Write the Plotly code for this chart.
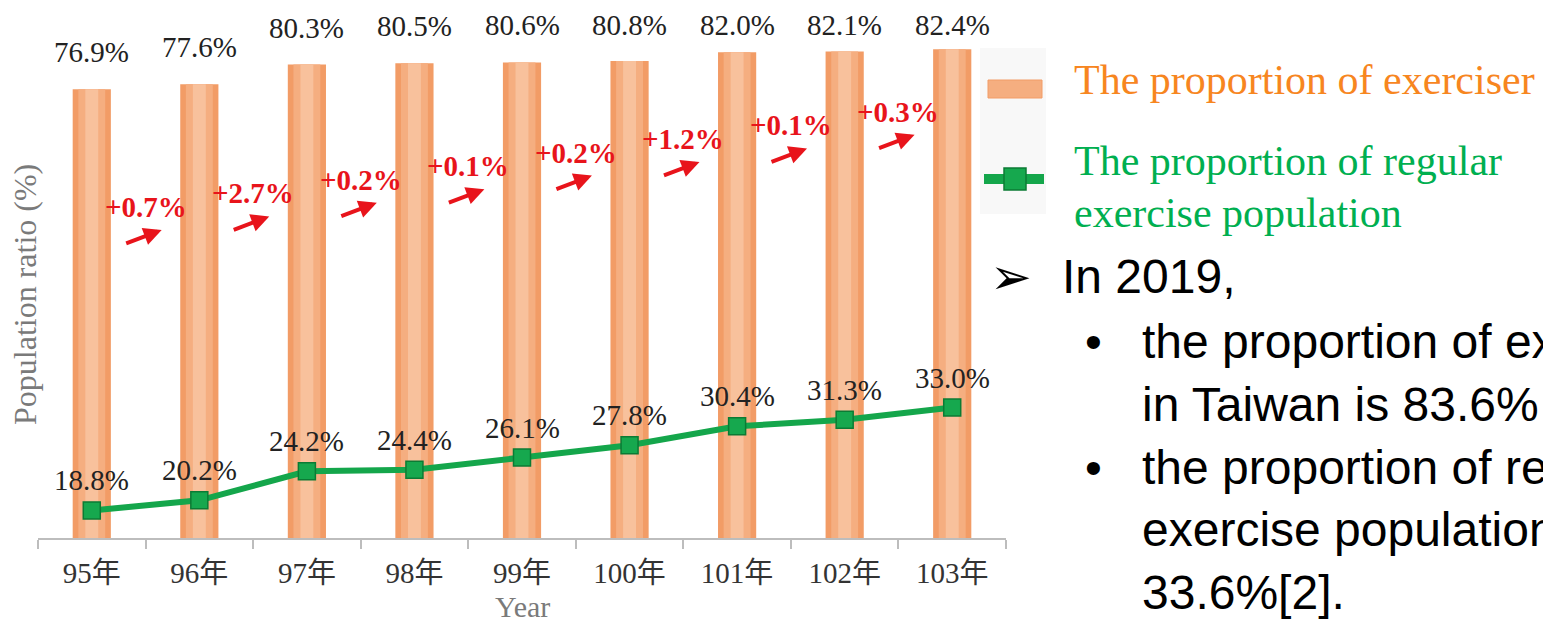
import plotly.graph_objects as go

# ---------------- data ----------------
years = ["95年", "96年", "97年", "98年", "99年", "100年", "101年", "102年", "103年"]
exercisers = [76.9, 77.6, 80.3, 80.5, 80.6, 80.8, 82.0, 82.1, 82.4]
regular = [18.8, 20.2, 24.2, 24.4, 26.1, 27.8, 30.4, 31.3, 33.0]
increments = ["+0.7%", "+2.7%", "+0.2%", "+0.1%", "+0.2%", "+1.2%", "+0.1%", "+0.3%"]

legend_bar = "The proportion of exerciser"
legend_line = ["The proportion of regular", "exercise population"]
bullet_head = "In 2019,"
bullet_lines = [
    "the proportion of exercisers",
    "in Taiwan is 83.6%",
    "the proportion of regular",
    "exercise population is",
    "33.6%[2].",
]

# ---------------- layout geometry ----------------
W, H = 1543, 620
L, R = 38, 1006          # plot area in px
T, B = 0, 538
Y0, PXPER = 15, 7.25     # axis floor and px per percent
SERIF = "Liberation Serif, Times New Roman, Noto Sans CJK TC, serif"
SANS = "Liberation Sans, Arial, sans-serif"


def px(x):
    return (x - L) / (R - L)


def py(y):
    return (B - y) / (B - T)


ORANGE_DARK = "#F29C66"
ORANGE_MID = "#F5AE80"
ORANGE_LIGHT = "#F8C19C"
GREEN = "#14A64B"
GREEN_DARK = "#0B7B34"
RED = "#E8141B"

fig = go.Figure()

# bars with a soft "cylinder" look: three overlaid widths
for w, c in [(0.355, ORANGE_DARK), (0.25, ORANGE_MID), (0.12, ORANGE_LIGHT)]:
    fig.add_trace(go.Bar(x=years, y=exercisers, width=w, marker=dict(color=c, line=dict(width=0)),
                         showlegend=False))

fig.add_trace(go.Scatter(
    x=years, y=regular, mode="lines+markers",
    line=dict(color=GREEN, width=6),
    marker=dict(symbol="square", size=17, color="#16A84E", line=dict(color=GREEN_DARK, width=1.5)),
    showlegend=False,
))

ann = []
# bar value labels (kept inside the top edge of the picture)
for c, v in zip(years, exercisers):
    top_px = B - (v - Y0) * PXPER
    shift = min(37, top_px - 25)
    ann.append(dict(x=c, y=v, xref="x", yref="y", text=f"{v:.1f}%", showarrow=False,
                    yanchor="middle", yshift=shift,
                    font=dict(family=SERIF, size=29, color="#222222")))
# line value labels
for c, v in zip(years, regular):
    ann.append(dict(x=c, y=v, xref="x", yref="y", text=f"{v:.1f}%", showarrow=False,
                    yanchor="middle", yshift=30,
                    font=dict(family=SERIF, size=29, color="#222222")))

# increment labels and red arrows
for i, t in enumerate(increments):
    ly = 207 - 13.6 * i
    ann.append(dict(x=i + 0.5, y=py(ly), xref="x", yref="paper", text=f"<b>{t}</b>",
                    xanchor="center", yanchor="middle",
                    showarrow=False, font=dict(family=SERIF, size=29, color=RED)))
    ay_tip = ly + 23
    ann.append(dict(x=i + 0.5 + 0.15, y=py(ay_tip), xref="x", yref="paper", text="",
                    showarrow=True, arrowhead=2, arrowsize=0.9, arrowwidth=4, arrowcolor=RED,
                    ax=-37, ay=14))

# axis titles
ann.append(dict(x=px(25), y=py(295), xref="paper", yref="paper", text="Population ratio (%)",
                xanchor="center", yanchor="middle",
                textangle=-90, showarrow=False, font=dict(family=SERIF, size=32, color="#7A7A7A")))
ann.append(dict(x=0.5, y=py(606), xref="paper", yref="paper", text="Year", showarrow=False,
                xanchor="center", yanchor="middle",
                font=dict(family=SERIF, size=30, color="#7A7A7A")))

# legend text
ann.append(dict(x=px(1072), y=py(80), xref="paper", yref="paper", xanchor="left", yanchor="middle",
                text=legend_bar, showarrow=False, font=dict(family=SERIF, size=42, color="#F7861F")))
for k, t in enumerate(legend_line):
    ann.append(dict(x=px(1072), y=py(161 + 52 * k), xref="paper", yref="paper", xanchor="left",
                    yanchor="middle", text=t, showarrow=False,
                    font=dict(family=SERIF, size=42, color="#00AF50")))

# right hand bullet text
ann.append(dict(x=px(1011), y=py(277), xref="paper", yref="paper", text="➢", showarrow=False,
                xanchor="center", yanchor="middle",
                font=dict(family="DejaVu Sans", size=50, color="black")))
ann.append(dict(x=px(1060), y=py(276), xref="paper", yref="paper", xanchor="left", yanchor="middle",
                text=bullet_head, showarrow=False, font=dict(family=SANS, size=48, color="black")))
for k, t in enumerate(bullet_lines):
    yy = 342 + 62.5 * k
    ann.append(dict(x=px(1140), y=py(yy), xref="paper", yref="paper", xanchor="left",
                    yanchor="middle", text=t,
                    showarrow=False, font=dict(family=SANS, size=48, color="black")))
for k in (0, 2):
    yy = 342 + 62.5 * k
    ann.append(dict(x=px(1093), y=py(yy), xref="paper", yref="paper", text="•",
                    xanchor="center", yanchor="middle",
                    showarrow=False, font=dict(family=SANS, size=48, color="black")))

shapes = [
    dict(type="rect", xref="paper", yref="paper", x0=px(980), x1=px(1046), y0=py(48), y1=py(214),
         fillcolor="#F8F8F8", line=dict(width=0), layer="below"),
    dict(type="rect", xref="paper", yref="paper", x0=px(988), x1=px(1042), y0=py(80), y1=py(98),
         fillcolor=ORANGE_MID, line=dict(color=ORANGE_DARK, width=1)),
    dict(type="line", xref="paper", yref="paper", x0=px(984), x1=px(1044), y0=py(179), y1=py(179),
         line=dict(color=GREEN, width=10)),
    dict(type="rect", xref="paper", yref="paper", x0=px(1004), x1=px(1026), y0=py(168), y1=py(190),
         fillcolor="#16A84E", line=dict(color=GREEN_DARK, width=1.5)),
]

fig.update_layout(
    width=W, height=H,
    margin=dict(l=L, r=W - R, t=T, b=H - B),
    paper_bgcolor="white", plot_bgcolor="white",
    barmode="overlay",
    showlegend=False,
    annotations=ann,
    shapes=shapes,
    xaxis=dict(
        type="category", categoryorder="array", categoryarray=years, range=[-0.5, 8.5],
        showline=True, linecolor="#BDBDBD", linewidth=1.5,
        ticks="outside", tickson="boundaries", ticklen=9, tickcolor="#BDBDBD", tickwidth=1.5,
        tickfont=dict(family=SERIF, size=29, color="#333333"), ticklabelstandoff=8,
        showgrid=False, zeroline=False,
    ),
    yaxis=dict(range=[Y0, Y0 + (B - T) / PXPER], showticklabels=False, showgrid=False,
               zeroline=False, showline=False, ticks=""),
)

fig.write_html("out.html")
